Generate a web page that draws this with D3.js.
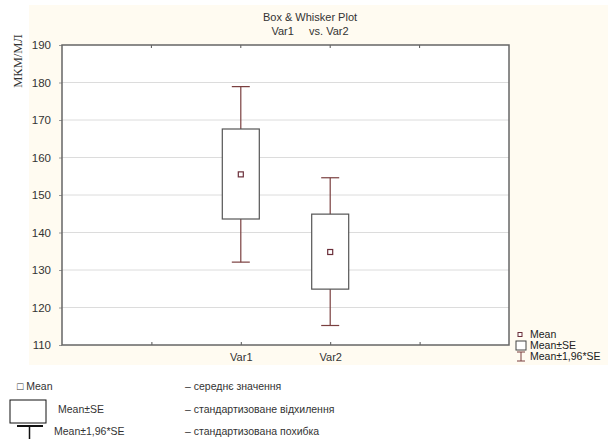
<!DOCTYPE html>
<html>
<head>
<meta charset="utf-8">
<script src="https://cdn.jsdelivr.net/npm/d3@7"></script>
<style>
  body { margin: 0; background: #fff; }
  svg text { font-family: "Liberation Sans", Arial, sans-serif; }
</style>
</head>
<body>
<svg id="chart" width="608" height="439"></svg>
<script>
// data
const groups = ['Var1', 'Var2']
const means = [155.5, 134.8]
const seLow = [143.6, 124.9]
const seHigh = [167.6, 144.9]
const ciLow = [132.1, 115.2]
const ciHigh = [178.9, 154.6]
const yTicks = [110, 120, 130, 140, 150, 160, 170, 180, 190]
const legendItems = ['Mean', 'Mean±SE', 'Mean±1,96*SE']
const noteNames = ['Mean', 'Mean±SE', 'Mean±1,96*SE']
const noteTexts = ['– середнє значення', '– стандартизоване відхилення', '– стандартизована похибка']

const svg = d3.select('#chart')
const whiskerColor = '#7a3f3f'
const boxColor = '#555'

/* beige backdrop */
svg.append('rect')
  .attr('x', 29).attr('y', 5)
  .attr('width', 579).attr('height', 360)
  .attr('fill', '#fffbf1')

const pLeft = 62, pRight = 509, pTop = 45, pBottom = 345

const x = d3.scaleLinear().domain([0, 5]).range([pLeft, pRight])
const y = d3.scaleLinear().domain([110, 190]).range([pBottom, pTop])

svg.append('rect')
  .attr('x', pLeft).attr('y', pTop)
  .attr('width', pRight - pLeft).attr('height', pBottom - pTop)
  .attr('fill', '#fff')

/* gridlines */
svg.append('g')
  .selectAll('line')
  .data(yTicks.slice(1, -1))
  .enter().append('line')
  .attr('x1', pLeft).attr('x2', pRight)
  .attr('y1', d => y(d)).attr('y2', d => y(d))
  .attr('stroke', '#dcdcdc')
  .attr('stroke-width', 1)

/* axes */
const yAxis = d3.axisLeft(y).tickValues(yTicks).tickSize(3).tickPadding(8)
svg.append('g')
  .attr('transform', `translate(${pLeft},0)`)
  .call(yAxis)
  .call(g => g.select('.domain').remove())
  .call(g => g.selectAll('line').attr('stroke', '#999'))
  .call(g => g.selectAll('text').attr('font-size', 11.5).attr('fill', '#333'))

const xAxis = d3.axisBottom(x).tickValues([1, 2, 3, 4])
  .tickFormat(d => groups[d - 2] || '')
  .tickSize(-3).tickPadding(8)
svg.append('g')
  .attr('transform', `translate(0,${pBottom})`)
  .call(xAxis)
  .call(g => g.select('.domain').remove())
  .call(g => g.selectAll('line').attr('stroke', '#555'))
  .call(g => g.selectAll('text').attr('font-size', 11).attr('fill', '#333'))

// top ticks
svg.append('g')
  .selectAll('line')
  .data([1, 2, 3, 4])
  .enter().append('line')
  .attr('x1', d => x(d)).attr('x2', d => x(d))
  .attr('y1', pTop).attr('y2', pTop + 3)
  .attr('stroke', '#555')

svg.append('rect')
  .attr('x', pLeft).attr('y', pTop)
  .attr('width', pRight - pLeft).attr('height', pBottom - pTop)
  .attr('fill', 'none')
  .attr('stroke', '#666')
  .attr('stroke-width', 1.5)

/* titles */
svg.append('text')
  .attr('x', 310).attr('y', 21)
  .attr('text-anchor', 'middle')
  .attr('font-size', 11).attr('fill', '#333')
  .text('Box & Whisker Plot')
svg.append('text')
  .attr('x', 310).attr('y', 35)
  .attr('text-anchor', 'middle')
  .attr('font-size', 11).attr('fill', '#333')
  .attr('xml:space', 'preserve')
  .text('Var1     vs. Var2')

svg.append('text')
  .attr('transform', 'translate(22,61) rotate(-90)')
  .attr('text-anchor', 'middle')
  .style('font-family', '"Liberation Serif", serif')
  .attr('font-size', 12.5).attr('fill', '#333')
  .text('МКМ/МЛ')

/* boxes */
const boxW = 37, capW = 18
const plot = svg.append('g')
const bx = i => x(i + 2)

groups.forEach((g, i) => {
  const cx = bx(i)
  plot.append('line')
    .attr('x1', cx).attr('x2', cx)
    .attr('y1', y(ciHigh[i])).attr('y2', y(ciLow[i]))
    .attr('stroke', whiskerColor).attr('stroke-width', 1.2)
  ;[ciHigh[i], ciLow[i]].forEach(v => {
    plot.append('line')
      .attr('x1', cx - capW / 2).attr('x2', cx + capW / 2)
      .attr('y1', y(v)).attr('y2', y(v))
      .attr('stroke', whiskerColor).attr('stroke-width', 1.2)
  })
  plot.append('rect')
    .attr('x', cx - boxW / 2).attr('y', y(seHigh[i]))
    .attr('width', boxW).attr('height', y(seLow[i]) - y(seHigh[i]))
    .attr('fill', '#fff').attr('stroke', boxColor).attr('stroke-width', 1.2)
  plot.append('rect')
    .attr('x', cx - 2.5).attr('y', y(means[i]) - 2.5)
    .attr('width', 5).attr('height', 5)
    .attr('fill', '#fff').attr('stroke', '#6b2f3a').attr('stroke-width', 1.2)
})

/* right legend */
const lg = svg.append('g').attr('transform', 'translate(516,329)')
const rowH = 11
lg.append('rect').attr('x', 2).attr('y', 3.5).attr('width', 4).attr('height', 4)
  .attr('fill', '#fff').attr('stroke', '#6b2f3a')
lg.append('rect').attr('x', 0).attr('y', rowH + 1).attr('width', 10).attr('height', 9)
  .attr('fill', '#fff').attr('stroke', '#444')
lg.append('line').attr('x1', 5).attr('x2', 5).attr('y1', 2 * rowH + 1).attr('y2', 2 * rowH + 10).attr('stroke', whiskerColor)
lg.append('line').attr('x1', 1).attr('x2', 9).attr('y1', 2 * rowH + 1).attr('y2', 2 * rowH + 1).attr('stroke', whiskerColor)
lg.append('line').attr('x1', 1).attr('x2', 9).attr('y1', 2 * rowH + 10).attr('y2', 2 * rowH + 10).attr('stroke', whiskerColor)
lg.selectAll('text.item')
  .data(legendItems)
  .enter().append('text')
  .attr('class', 'item')
  .attr('x', 14)
  .attr('y', (d, i) => 9 + i * rowH)
  .attr('font-size', 10.5).attr('fill', '#222')
  .text(d => d)

/* notes below */
const notes = svg.append('g')
notes.append('text').attr('x', 17).attr('y', 390)
  .attr('font-size', 10.5).attr('fill', '#333').text('□ ' + noteNames[0])
notes.append('rect').attr('x', 10).attr('y', 400).attr('width', 36).attr('height', 23)
  .attr('fill', '#fff').attr('stroke', '#111').attr('stroke-width', 1)
notes.append('text').attr('x', 58).attr('y', 413)
  .attr('font-size', 10.5).attr('fill', '#333').text(noteNames[1])
notes.append('line').attr('x1', 17).attr('x2', 43).attr('y1', 426).attr('y2', 426)
  .attr('stroke', '#111').attr('stroke-width', 2)
notes.append('line').attr('x1', 29.5).attr('x2', 29.5).attr('y1', 426).attr('y2', 439)
  .attr('stroke', '#111').attr('stroke-width', 1.5)
notes.append('text').attr('x', 54).attr('y', 435)
  .attr('font-size', 10.5).attr('fill', '#333').text(noteNames[2])
notes.selectAll('text.desc')
  .data(noteTexts)
  .enter().append('text')
  .attr('class', 'desc')
  .attr('x', 185)
  .attr('y', (d, i) => 390 + i * 22.5)
  .attr('font-size', 10.5).attr('fill', '#333')
  .text(d => d)
</script>
</body>
</html>
